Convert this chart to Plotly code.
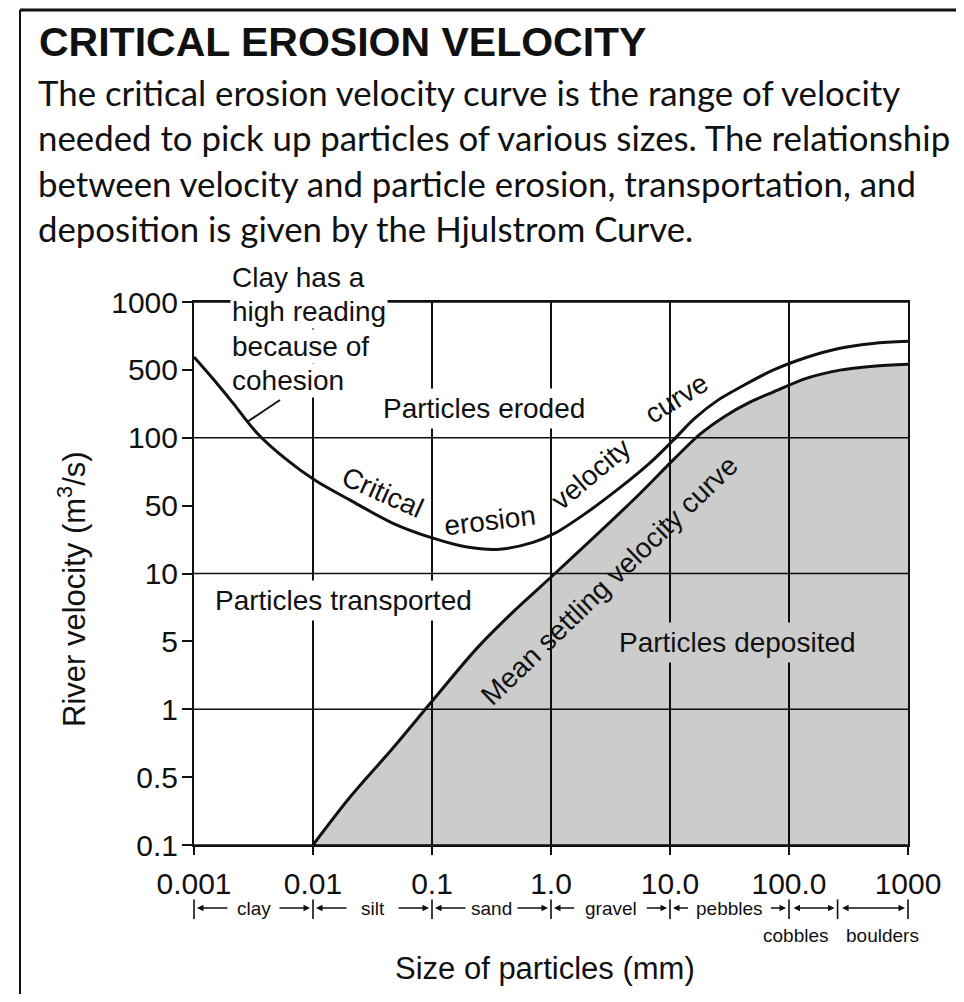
import numpy as np
import plotly.graph_objects as go

# ---------------- data ----------------
Y_TICK_VALUES = [0.1, 0.5, 1, 5, 10, 50, 100, 500, 1000]
Y_TICK_TEXT = ["0.1", "0.5", "1", "5", "10", "50", "100", "500", "1000"]
X_TICK_VALUES = [0.001, 0.01, 0.1, 1, 10, 100, 1000]
X_TICK_TEXT = ["0.001", "0.01", "0.1", "1.0", "10.0", "100.0", "1000"]

EROSION_SIZE_MM = [0.001, 0.00156, 0.00213, 0.00338, 0.00582, 0.0104, 0.0205, 0.047, 0.102,
                   0.197, 0.372, 0.706, 1.08, 1.86, 3.59, 6.79, 10.6, 16.2, 25.3, 40.3, 73.4,
                   141.6, 268, 508, 1000]
EROSION_VELOCITY = [570, 362, 227, 112, 81, 64.8, 52.9, 32.9, 23.1,
                    18.7, 17.8, 20.9, 26.0, 39.9, 58.7, 77.4, 97.3, 159, 244, 339, 497,
                    569, 624, 655, 669]

SETTLING_SIZE_MM = [0.01, 0.0205, 0.047, 0.102, 0.239, 0.498, 1.08, 4.89, 10.6,
                    17.9, 29.0, 47.0, 73.4, 141.6, 268, 508, 1000]
SETTLING_VELOCITY = [0.1, 0.312, 0.673, 1.243, 4.26, 6.88, 10, 52.8, 79.6,
                     108.9, 166.9, 232.5, 295, 411, 497, 519, 530]

SIZE_CLASSES = ["clay", "silt", "sand", "gravel", "pebbles", "cobbles", "boulders"]
CLASS_BOUNDS_MM = [0.001, 0.01, 0.1, 1, 10, 100, 256, 1000]

CLAY_NOTE_LINES = ["Clay has a", "high reading", "because of", "cohesion"]

# ---------------- layout constants ----------------
PAGE_OFF = 8                      # browser body margin
W, H = 956, 986
PW, PH = 714, 543
ML, MT = 194 - PAGE_OFF, 302 - PAGE_OFF
MR, MB = W - ML - PW, H - MT - PH
DEC_PX = PW / 6.0
FONT = "Liberation Sans, Arial, sans-serif"
BODY_FONT = "Lato, sans-serif"
INK = "#111111"
GRAY_FILL = "rgba(0,0,0,0.2)"
GRAY_SOLID = "#cccccc"


def vy(v):
    """velocity -> position on the evenly spaced velocity scale"""
    return np.interp(np.log10(v), np.log10(Y_TICK_VALUES), np.arange(len(Y_TICK_VALUES)))


def px2paper_x(px):          # px measured on the page
    return (px - 194) / PW


def px2paper_y(py):
    return (845 - py) / PH


def px2lx(px):               # page px -> log10 x
    return (px - 194) / DEC_PX - 3


def px2iy(py):               # page px -> y axis units
    return (845 - py) / (PH / 8.0)


fig = go.Figure()

fig.add_trace(go.Scatter(
    x=SETTLING_SIZE_MM, y=vy(SETTLING_VELOCITY), mode="lines",
    line=dict(color=INK, width=3, shape="spline", smoothing=0.9),
    fill="tozeroy", fillcolor=GRAY_FILL, hoverinfo="skip", showlegend=False))

fig.add_trace(go.Scatter(
    x=EROSION_SIZE_MM, y=vy(EROSION_VELOCITY), mode="lines",
    line=dict(color=INK, width=3, shape="spline", smoothing=0.9),
    hoverinfo="skip", showlegend=False))

# leader line from the clay note to the curve
fig.add_trace(go.Scatter(
    x=[10 ** px2lx(280), 10 ** px2lx(247)], y=[px2iy(400), px2iy(422)], mode="lines",
    line=dict(color=INK, width=2), hoverinfo="skip", showlegend=False))

shapes = []
for v in [0.1, 1, 10, 100, 1000]:
    yy = float(vy(v))
    shapes.append(dict(type="line", xref="x domain", yref="y", x0=0, x1=1, y0=yy, y1=yy,
                       line=dict(color=INK, width=1.6), layer="below"))

# page frame (left and top)
shapes.append(dict(type="line", xref="paper", yref="paper",
                   x0=px2paper_x(20), x1=px2paper_x(964), y0=px2paper_y(10), y1=px2paper_y(10),
                   line=dict(color=INK, width=3)))
shapes.append(dict(type="line", xref="paper", yref="paper",
                   x0=px2paper_x(20), x1=px2paper_x(20), y0=px2paper_y(10), y1=px2paper_y(1002),
                   line=dict(color=INK, width=2)))

ann = []
ann.append(dict(text="<b>CRITICAL EROSION VELOCITY</b>", xref="paper", yref="paper",
                x=px2paper_x(37), y=px2paper_y(42), xanchor="left", yanchor="middle",
                showarrow=False, font=dict(family=FONT, size=41, color=INK)))
BODY_LINES = [
    "The critical erosion velocity curve is the range of velocity",
    "needed to pick up particles of various sizes. The relationship",
    "between velocity and particle erosion, transportation, and",
    "deposition is given by the Hjulstrom Curve.",
]
for i, line in enumerate(BODY_LINES):
    ann.append(dict(text=line, xref="paper", yref="paper",
                    x=px2paper_x(36), y=px2paper_y(92 + 45.5 * i), xanchor="left", yanchor="middle",
                    showarrow=False, font=dict(family=BODY_FONT, size=34.8, color=INK)))

ann.append(dict(text="River velocity (m<sup>3</sup>/s)", xref="paper", yref="paper",
                x=px2paper_x(72), y=px2paper_y(589), xanchor="center", yanchor="middle",
                textangle=-90, showarrow=False, font=dict(family=FONT, size=31, color=INK)))
ann.append(dict(text="Size of particles (mm)", xref="paper", yref="paper",
                x=px2paper_x(545), y=px2paper_y(968), xanchor="center", yanchor="middle",
                showarrow=False, font=dict(family=FONT, size=31, color=INK)))

LBL = dict(family=FONT, size=28, color=INK)
for i, line in enumerate(CLAY_NOTE_LINES):
    ann.append(dict(text=line, x=px2paper_x(230), y=px2paper_y(277 + 34.5 * i),
                    xref="paper", yref="paper",
                    xanchor="left", yanchor="middle", showarrow=False,
                    bgcolor="white", borderpad=1, font=LBL))
ann.append(dict(text="Particles eroded", x=px2lx(484), y=px2iy(408), xref="x", yref="y",
                showarrow=False, bgcolor="white", borderpad=4, font=LBL))
ann.append(dict(text="Particles transported", x=px2lx(343), y=px2iy(600), xref="x", yref="y",
                showarrow=False, bgcolor="white", borderpad=4, font=LBL))
ann.append(dict(text="Particles deposited", x=px2lx(737), y=px2iy(642), xref="x", yref="y",
                showarrow=False, bgcolor=GRAY_SOLID, borderpad=4, font=LBL))

for word, cx, cy, ang in [("Critical", 383, 492, 24), ("erosion", 490, 520, -7),
                          ("velocity", 590, 474, -40), ("curve", 676, 398, -32)]:
    ann.append(dict(text=word, x=px2lx(cx), y=px2iy(cy), xref="x", yref="y", textangle=ang,
                    showarrow=False, font=LBL))
ann.append(dict(text="Mean settling velocity curve", x=px2lx(609), y=px2iy(580), xref="x", yref="y",
                textangle=-44, showarrow=False, font=LBL))

# size class scale below the axis
ROW_Y = px2paper_y(908)
SMALL = dict(family=FONT, size=19, color=INK)
for b in CLASS_BOUNDS_MM:
    ann.append(dict(text="", x=np.log10(b), y=px2paper_y(919), xref="x", yref="paper",
                    showarrow=True, arrowhead=0, arrowwidth=1.6, arrowcolor=INK, ax=0, ay=-21))
for i, name in enumerate(SIZE_CLASSES):
    a, b = np.log10(CLASS_BOUNDS_MM[i]), np.log10(CLASS_BOUNDS_MM[i + 1])
    if name in ("cobbles", "boulders"):
        ann.append(dict(text="", x=b - 3 / DEC_PX, y=ROW_Y, xref="x", yref="paper",
                        ax=a + 3 / DEC_PX, ay=0, axref="x", ayref="pixel",
                        showarrow=True, arrowhead=2, arrowside="end+start", arrowsize=1,
                        arrowwidth=1.3, arrowcolor=INK))
        continue
    c = (a + b) / 2
    half = (len(name) * 0.27 * 19 + 4) / DEC_PX
    ann.append(dict(text=name, x=c, y=ROW_Y, xref="x", yref="paper", yanchor="middle",
                    showarrow=False, font=SMALL))
    ann.append(dict(text="", x=a + 3 / DEC_PX, y=ROW_Y, xref="x", yref="paper",
                    ax=c - half, ay=0, axref="x", ayref="pixel", showarrow=True,
                    arrowhead=2, arrowsize=1, arrowwidth=1.3, arrowcolor=INK))
    ann.append(dict(text="", x=b - 3 / DEC_PX, y=ROW_Y, xref="x", yref="paper",
                    ax=c + half, ay=0, axref="x", ayref="pixel", showarrow=True,
                    arrowhead=2, arrowsize=1, arrowwidth=1.3, arrowcolor=INK))
ann.append(dict(text="cobbles", x=px2lx(796), y=px2paper_y(935), xref="x", yref="paper",
                yanchor="middle", showarrow=False, font=SMALL))
ann.append(dict(text="boulders", x=px2lx(882), y=px2paper_y(935), xref="x", yref="paper",
                yanchor="middle", showarrow=False, font=SMALL))

fig.update_layout(
    width=W, height=H, autosize=False,
    margin=dict(l=ML, r=MR, t=MT, b=MB),
    paper_bgcolor="white", plot_bgcolor="white",
    shapes=shapes, annotations=ann, showlegend=False,
    font=dict(family=FONT, color=INK),
)
fig.update_xaxes(
    type="log", range=[-3, 3], tickmode="array", tickvals=X_TICK_VALUES, ticktext=X_TICK_TEXT,
    ticks="outside", ticklen=8, tickwidth=2, tickcolor=INK,
    showgrid=True, gridcolor=INK, gridwidth=1.6,
    showline=True, linecolor=INK, linewidth=2, mirror=True, zeroline=False,
    tickfont=dict(family=FONT, size=30, color=INK), ticklabelstandoff=3,
)
fig.update_yaxes(
    range=[0, 8], tickmode="array", tickvals=list(range(len(Y_TICK_VALUES))), ticktext=Y_TICK_TEXT,
    ticks="outside", ticklen=10, tickwidth=2, tickcolor=INK,
    showgrid=False, showline=True, linecolor=INK, linewidth=2, mirror=True, zeroline=False,
    tickfont=dict(family=FONT, size=30, color=INK), ticklabelstandoff=-2,
)

fig.write_html("out.html")
